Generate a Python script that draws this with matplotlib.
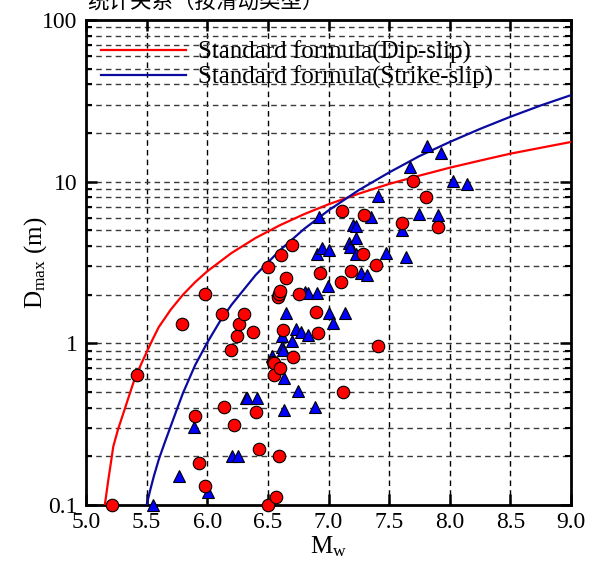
import numpy as np
import matplotlib
matplotlib.use("Agg")
import matplotlib.pyplot as plt
from matplotlib.ticker import FixedLocator, FixedFormatter, LogLocator, NullFormatter

# ---------------- data ----------------
# Standard formula curves
dip_M = [5.155, 5.170, 5.184, 5.205, 5.225, 5.265, 5.308, 5.355, 5.398, 5.418, 5.46,
         5.50, 5.55, 5.60, 5.70, 5.80, 5.90, 6.00, 6.20, 6.40, 6.60, 6.80, 7.00,
         7.25, 7.50, 7.75, 8.00, 8.25, 8.50, 8.75, 9.00]
dip_D = [0.100, 0.120, 0.143, 0.182, 0.230, 0.295, 0.369, 0.473, 0.593, 0.643, 0.759,
         0.881, 1.06, 1.26, 1.62, 2.00, 2.39, 2.79, 3.62, 4.49, 5.38, 6.30, 7.24,
         8.43, 9.68, 10.9, 12.2, 13.5, 14.9, 16.2, 17.6]

ss_M = [5.50, 5.53, 5.56, 5.60, 5.65, 5.70, 5.75, 5.80, 5.90, 6.00, 6.10, 6.20,
        6.40, 6.60, 6.80, 7.00, 7.25, 7.50, 7.75, 8.00, 8.25, 8.50, 8.75, 9.00]
ss_D = [0.100, 0.124, 0.151, 0.191, 0.244, 0.309, 0.391, 0.493, 0.733, 1.01, 1.35, 1.73,
        2.65, 3.77, 5.11, 6.64, 8.87, 11.4, 14.4, 17.6, 21.2, 25.2, 29.6, 34.3]

# Observed events: circles (red)
circ_M = [5.217, 5.418, 5.789, 5.899, 5.929, 5.981, 5.981, 6.119, 6.136, 6.199, 6.218,
          6.248, 6.262, 6.306, 6.380, 6.402, 6.429, 6.501, 6.504, 6.545, 6.551, 6.551,
          6.570, 6.581, 6.592, 6.595, 6.600, 6.600, 6.608, 6.627, 6.647, 6.700, 6.710,
          6.759, 6.894, 6.911, 6.930, 7.100, 7.109, 7.122, 7.183, 7.287, 7.293, 7.389,
          7.411, 7.604, 7.699, 7.804, 7.903]
circ_D = [0.100, 0.640, 1.32, 0.356, 0.183, 2.02, 0.131, 1.52, 0.404, 0.91, 0.314,
          1.11, 1.31, 1.52, 1.18, 0.374, 0.222, 0.100, 2.97, 0.77, 0.76, 0.637,
          0.112, 1.93, 0.201, 2.02, 2.12, 0.706, 3.52, 1.21, 2.52, 4.06, 0.826,
          2.02, 1.57, 1.16, 2.71, 2.41, 6.59, 0.50, 2.81, 3.55, 6.22, 3.06,
          0.96, 5.57, 10.1, 8.07, 5.22]

# Observed events: triangles (blue)
tri_M = [5.55, 5.770, 5.893, 6.003, 6.200, 6.254, 6.320, 6.325, 6.407, 6.531, 6.614,
         6.614, 6.627, 6.636, 6.636, 6.649, 6.700, 6.732, 6.751, 6.773, 6.806, 6.834,
         6.834, 6.886, 6.902, 6.908, 6.922, 6.944, 6.999, 7.004, 7.004, 7.034, 7.133,
         7.169, 7.177, 7.205, 7.224, 7.227, 7.230, 7.265, 7.320, 7.351, 7.405, 7.474,
         7.604, 7.639, 7.672, 7.746, 7.810, 7.906, 7.928, 8.024, 8.145]
tri_D = [0.100, 0.152, 0.305, 0.121, 0.202, 0.202, 0.457, 0.457, 0.457, 0.83, 1.11,
         0.944, 0.91, 0.608, 0.387, 1.53, 1.03, 1.22, 0.51, 1.17, 2.07, 2.05,
         1.13, 0.406, 3.56, 2.04, 6.03, 3.87, 2.26, 3.78, 1.53, 1.33, 1.53,
         4.19, 3.96, 5.40, 4.47, 5.32, 3.58, 2.74, 2.65, 6.07, 8.15, 3.64,
         5.02, 3.44, 12.3, 6.30, 16.7, 6.22, 15.0, 10.1, 9.64]

x_ticks = [5.0, 5.5, 6.0, 6.5, 7.0, 7.5, 8.0, 8.5, 9.0]
x_tick_labels = ["5.0", "5.5", "6.0", "6.5", "7.0", "7.5", "8.0", "8.5", "9.0"]
y_ticks = [0.1, 1, 10, 100]
y_tick_labels = ["0.1", "1", "10", "100"]

legend_labels = ["Standard formula(Dip-slip)", "Standard formula(Strike-slip)"]
top_text = "统计关系（按滑动类型）"

# ---------------- figure ----------------
plt.rcParams['font.family'] = ['Liberation Serif', 'DejaVu Serif']
plt.rcParams['mathtext.fontset'] = 'custom'
plt.rcParams['mathtext.rm'] = 'Liberation Serif'
plt.rcParams['mathtext.it'] = 'Liberation Serif:italic'

fig = plt.figure(figsize=(6.03, 5.61), dpi=100)
ax = fig.add_axes([86 / 603, 56 / 561, 485 / 603, 485 / 561])

ax.set_yscale('log')
ax.set_xlim(5.0, 9.0)
ax.set_ylim(0.1, 100)

# grid lines
for xv in x_ticks[1:-1]:
    ax.axvline(xv, color='black', lw=1.0, ls=(0, (4, 3)), zorder=1)
for dec in [0.1, 1, 10]:
    for k in range(1, 10):
        yv = dec * k
        if yv <= 0.1 or yv >= 100:
            continue
        ax.axhline(yv, color='#3a3a3a', lw=1.0, ls=(0, (4, 3)), zorder=1)

l1, = ax.plot(dip_M, dip_D, color='#FF0000', lw=1.6, zorder=3)
l2, = ax.plot(ss_M, ss_D, color='#0A0AA0', lw=1.6, zorder=3)

ax.plot(circ_M, circ_D, ls='none', marker='o', ms=9.0, mfc='#FF0000', mec='black',
        mew=0.8, zorder=5, clip_on=False)
ax.plot(tri_M, tri_D, ls='none', marker='^', ms=8.6, mfc='#0000FF', mec='black',
        mew=0.8, zorder=4, clip_on=False)

# ticks
ax.xaxis.set_major_locator(FixedLocator(x_ticks))
ax.xaxis.set_major_formatter(FixedFormatter(x_tick_labels))
ax.yaxis.set_major_locator(FixedLocator(y_ticks))
ax.yaxis.set_major_formatter(FixedFormatter(y_tick_labels))
ax.yaxis.set_minor_locator(LogLocator(base=10, subs=np.arange(2, 10)))
ax.yaxis.set_minor_formatter(NullFormatter())
ax.tick_params(which='major', direction='in', length=8, width=1.8,
               top=True, right=True, labelsize=17)
ax.tick_params(axis='x', which='major', pad=5)
ax.tick_params(axis='y', which='major', pad=6)
ax.tick_params(which='minor', direction='in', length=4.5, width=1.5,
               top=True, right=True)
for s in ax.spines.values():
    s.set_linewidth(2.0)

ax.set_xlabel(r"M$_{\rm w}$", fontsize=18, labelpad=1)
ax.set_ylabel(r"D$_{\rm max}$ (m)", fontsize=18)
ax.yaxis.set_label_coords(-0.076, 0.5)

leg = ax.legend([l1, l2], legend_labels, loc='upper left', frameon=False,
                fontsize=18, handlelength=3.4, handletextpad=0.5,
                borderaxespad=0.2, labelspacing=0.05,
                bbox_to_anchor=(0.0, 1.0 - 6 / 485))

fig.text(87 / 603, 1.0 - 2 / 561, top_text, fontsize=15.5, va='center', ha='left',
         family=['Noto Sans CJK SC', 'DejaVu Sans'])

fig.savefig("out.png", dpi=100)
